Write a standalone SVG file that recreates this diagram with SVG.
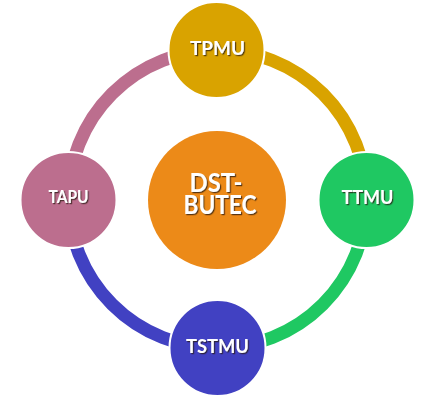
<svg xmlns="http://www.w3.org/2000/svg" width="437" height="416" viewBox="0 0 437 416">
<defs>
<filter id="sh" x="-20%" y="-20%" width="140%" height="140%">
<feDropShadow dx="1.2" dy="1.2" stdDeviation="0.3" flood-color="#2a1a10" flood-opacity="0.75"/>
</filter>
</defs>
<style>
.ring{fill:none;stroke-width:13}
.node{stroke:#ffffff;stroke-width:2}
.lbl{font-family:Lato,"Liberation Sans",sans-serif;font-weight:bold;fill:#ffffff;text-anchor:middle;filter:url(#sh)}
</style>
<rect width="437" height="416" fill="#ffffff"/>
<g id="connectors">
<path class="ring" stroke="#D9A300" d="M217.5,50 A149,149 0 0 1 366.5,199"/>
<path class="ring" stroke="#1FC862" d="M366.5,199 A149,149 0 0 1 217.5,348"/>
<path class="ring" stroke="#4141C2" d="M217.5,348 A149,149 0 0 1 68.5,199"/>
<path class="ring" stroke="#BC6E8E" d="M68.5,199 A149,149 0 0 1 217.5,50"/>
</g>
<g id="center">
<circle cx="217" cy="200" r="69" fill="#EC8A18"/>
<text class="lbl" x="216" y="192" font-size="26" textLength="53" lengthAdjust="spacingAndGlyphs">DST-</text>
<text class="lbl" x="220" y="214" font-size="26" textLength="73" lengthAdjust="spacingAndGlyphs">BUTEC</text>
</g>
<g id="tpmu">
<circle class="node" cx="216.5" cy="50" r="48" fill="#D9A300"/>
<text class="lbl" x="217.5" y="55" font-size="18" textLength="55" lengthAdjust="spacingAndGlyphs">TPMU</text>
</g>
<g id="ttmu">
<circle class="node" cx="366.5" cy="200" r="48" fill="#1FC862"/>
<text class="lbl" x="367.5" y="204" font-size="18" textLength="52" lengthAdjust="spacingAndGlyphs">TTMU</text>
</g>
<g id="tstmu">
<circle class="node" cx="217.5" cy="348" r="48" fill="#4141C2"/>
<text class="lbl" x="217.5" y="353" font-size="18" textLength="63" lengthAdjust="spacingAndGlyphs">TSTMU</text>
</g>
<g id="tapu">
<circle class="node" cx="68.5" cy="200" r="48" fill="#BC6E8E"/>
<text class="lbl" x="68.5" y="203" font-size="16.5" textLength="40" lengthAdjust="spacingAndGlyphs">TAPU</text>
</g>
</svg>
